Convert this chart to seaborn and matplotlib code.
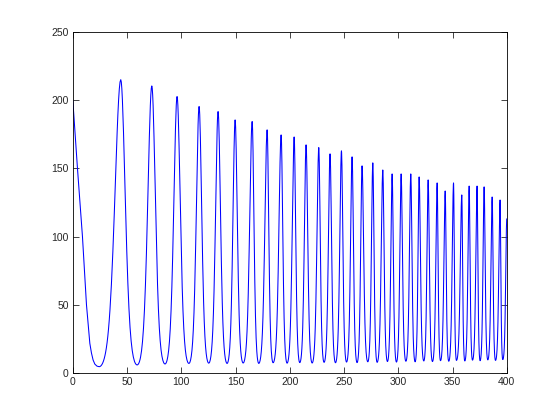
import numpy as np
import pandas as pd
import seaborn as sns
import matplotlib
matplotlib.use("Agg")
import matplotlib.pyplot as plt

# opening descent
lead_x = [0, 4.3, 8.9, 12.6, 15.7, 17.2, 18.7, 20.3, 22.3]
lead_y = [200, 150, 100, 50, 21.7, 14.6, 9.5, 6.5, 5.0]

# extrema (x, value)
peak_x = [44.2, 72.8, 96.1, 116.4, 133.9, 149.6, 165.3, 179.1, 192.0, 204.0,
          215.0, 226.7, 237.1, 247.6, 257.4, 266.6, 276.5, 285.7, 294.3, 302.6,
          311.5, 319.2, 327.5, 335.8, 343.2, 350.9, 358.5, 365.3, 372.6, 379.1,
          386.5, 393.8]
peak_y = [215, 210.4, 202.6, 195.3, 191.6, 185.5, 184.3, 178.2, 174.5, 173.0,
          167.2, 165.2, 160.6, 162.8, 158.4, 151.8, 154.0, 148.8, 145.9, 145.9,
          145.9, 143.7, 141.5, 139.3, 133.4, 139.3, 130.5, 137.0, 137.0, 136.4,
          129.0, 126.8]
trough_x = [24.3, 59.3, 85.0, 107.0, 125.3, 142.2, 157.0, 171.4, 184.6, 197.5, 209.2,
            220.6, 231.6, 242.1, 252.3, 262.0, 271.9, 280.5, 290.0, 298.3, 307.0,
            315.5, 323.5, 331.5, 338.9, 346.5, 353.6, 361.3, 368.4, 375.4, 382.5,
            389.6, 396.3]
trough_y = [4.6, 5.9, 6.6, 7.0, 7.2, 7.0, 7.3, 7.0, 7.5, 7.2, 7.6,
            7.3, 7.8, 7.5, 8.0, 7.6, 8.2, 7.8, 8.4, 8.0, 8.6,
            8.2, 8.8, 8.4, 9.0, 8.6, 9.2, 8.8, 9.4, 9.0, 9.6,
            9.2, 9.8]
end_x, end_y = 400, 113

# trough, peak, trough, ... then the last value at x = 400
kx, ky = [trough_x[0]], [trough_y[0]]
for px, py, tx, ty in zip(peak_x, peak_y, trough_x[1:], trough_y[1:]):
    kx += [px, tx]
    ky += [py, ty]
kx.append(end_x)
ky.append(end_y)

# rounded troughs, sharp peaks: exponential of a cosine swing
k = 2.8
t = np.linspace(0, 1, 31)[:-1]
s = (1 - np.cos(np.pi * t)) / 2
up = (np.exp(k * s) - 1) / (np.exp(k) - 1)
down = (np.exp(k * (1 - s)) - 1) / (np.exp(k) - 1)
xs, ys = [np.array(lead_x)], [np.array(lead_y)]
for i in range(len(kx) - 1):
    xa, xb, ya, yb = kx[i], kx[i + 1], ky[i], ky[i + 1]
    xs.append(xa + (xb - xa) * t)
    if yb > ya:
        ys.append(ya + (yb - ya) * up)
    else:
        ys.append(yb + (ya - yb) * down)
xs.append([end_x])
ys.append([end_y])
df = pd.DataFrame({"x": np.concatenate(xs), "y": np.concatenate(ys)})

sns.set_style("white")
plt.rcParams['font.family'] = ['Liberation Sans', 'DejaVu Sans']

fig = plt.figure(figsize=(5.6, 4.2), dpi=100)
ax = fig.add_axes([0.13, 0.112, 0.775, 0.812])
sns.lineplot(data=df, x="x", y="y", ax=ax, color="#0000ff", linewidth=0.75,
             estimator=None, sort=False)

ax.set_xlim(0, 400)
ax.set_ylim(0, 250)
ax.set_xticks(range(0, 401, 50))
ax.set_yticks(range(0, 251, 50))
ax.set_xlabel("")
ax.set_ylabel("")
ax.tick_params(direction="in", length=4, width=0.6, labelsize=7.5,
               top=True, right=True, bottom=True, left=True, pad=3)
for sp in ax.spines.values():
    sp.set_color("black")
    sp.set_linewidth(0.6)

fig.savefig("out.png", dpi=100, facecolor="white")
